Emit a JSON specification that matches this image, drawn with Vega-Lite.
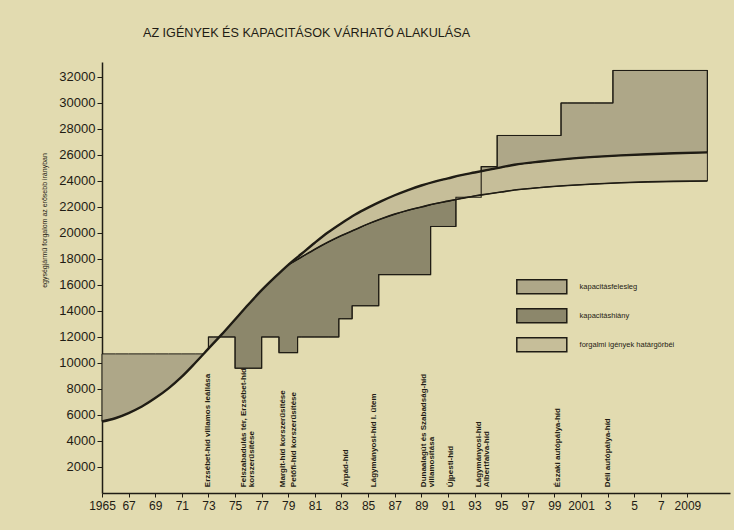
{
  "$schema": "https://vega.github.io/schema/vega-lite/v6.json",
  "width": 628,
  "height": 431,
  "autosize": {"type": "none"},
  "padding": {"left": 102, "top": 62, "right": 4, "bottom": 37},
  "background": "#e2dbb0",
  "title": {
    "text": "AZ IGÉNYEK ÉS KAPACITÁSOK VÁRHATÓ ALAKULÁSA",
    "anchor": "start",
    "frame": "group",
    "dx": 41,
    "offset": 12,
    "baseline": "alphabetic",
    "fontSize": 12.6,
    "fontWeight": "normal",
    "color": "#1f1c14",
    "font": "Liberation Sans"
  },
  "datasets": {
    "regions": [
      {"reg": "S1", "type": "kapacitásfelesleg", "year": 1965, "lo": 5500, "hi": 10700},
      {"reg": "S1", "type": "kapacitásfelesleg", "year": 1966, "lo": 5750, "hi": 10700},
      {"reg": "S1", "type": "kapacitásfelesleg", "year": 1967, "lo": 6150, "hi": 10700},
      {"reg": "S1", "type": "kapacitásfelesleg", "year": 1968, "lo": 6650, "hi": 10700},
      {"reg": "S1", "type": "kapacitásfelesleg", "year": 1969, "lo": 7300, "hi": 10700},
      {"reg": "S1", "type": "kapacitásfelesleg", "year": 1970, "lo": 8050, "hi": 10700},
      {"reg": "S1", "type": "kapacitásfelesleg", "year": 1971, "lo": 8950, "hi": 10700},
      {"reg": "S1", "type": "kapacitásfelesleg", "year": 1972, "lo": 10000, "hi": 10700},
      {"reg": "S1", "type": "kapacitásfelesleg", "year": 1972.64, "lo": 10700, "hi": 10700},
      {"reg": "S2", "type": "kapacitásfelesleg", "year": 1973, "lo": 11100, "hi": 12000},
      {"reg": "S2", "type": "kapacitásfelesleg", "year": 1973.4, "lo": 11540, "hi": 12000},
      {"reg": "S2", "type": "kapacitásfelesleg", "year": 1973.82, "lo": 12000, "hi": 12000},
      {"reg": "X", "type": "kapacitáshiány", "year": 1973.82, "lo": 12000, "hi": 12000},
      {"reg": "X", "type": "kapacitáshiány", "year": 1974, "lo": 12000, "hi": 12200},
      {"reg": "X", "type": "kapacitáshiány", "year": 1975, "lo": 12000, "hi": 13350},
      {"reg": "X", "type": "kapacitáshiány", "year": 1975, "lo": 9600, "hi": 13350},
      {"reg": "X", "type": "kapacitáshiány", "year": 1976, "lo": 9600, "hi": 14500},
      {"reg": "X", "type": "kapacitáshiány", "year": 1977, "lo": 9600, "hi": 15600},
      {"reg": "X", "type": "kapacitáshiány", "year": 1977, "lo": 12000, "hi": 15600},
      {"reg": "X", "type": "kapacitáshiány", "year": 1978, "lo": 12000, "hi": 16600},
      {"reg": "X", "type": "kapacitáshiány", "year": 1978.3, "lo": 12000, "hi": 16885},
      {"reg": "X", "type": "kapacitáshiány", "year": 1978.3, "lo": 10800, "hi": 16885},
      {"reg": "X", "type": "kapacitáshiány", "year": 1979, "lo": 10800, "hi": 17550},
      {"reg": "X", "type": "kapacitáshiány", "year": 1979.7, "lo": 10800, "hi": 17970},
      {"reg": "X", "type": "kapacitáshiány", "year": 1979.7, "lo": 12000, "hi": 17970},
      {"reg": "X", "type": "kapacitáshiány", "year": 1980, "lo": 12000, "hi": 18150},
      {"reg": "X", "type": "kapacitáshiány", "year": 1981, "lo": 12000, "hi": 18750},
      {"reg": "X", "type": "kapacitáshiány", "year": 1982, "lo": 12000, "hi": 19300},
      {"reg": "X", "type": "kapacitáshiány", "year": 1982.8, "lo": 12000, "hi": 19700},
      {"reg": "X", "type": "kapacitáshiány", "year": 1982.8, "lo": 13400, "hi": 19700},
      {"reg": "X", "type": "kapacitáshiány", "year": 1983, "lo": 13400, "hi": 19800},
      {"reg": "X", "type": "kapacitáshiány", "year": 1983.8, "lo": 13400, "hi": 20160},
      {"reg": "X", "type": "kapacitáshiány", "year": 1983.8, "lo": 14400, "hi": 20160},
      {"reg": "X", "type": "kapacitáshiány", "year": 1984, "lo": 14400, "hi": 20250},
      {"reg": "X", "type": "kapacitáshiány", "year": 1985, "lo": 14400, "hi": 20700},
      {"reg": "X", "type": "kapacitáshiány", "year": 1985.8, "lo": 14400, "hi": 21020},
      {"reg": "X", "type": "kapacitáshiány", "year": 1985.8, "lo": 16800, "hi": 21020},
      {"reg": "X", "type": "kapacitáshiány", "year": 1986, "lo": 16800, "hi": 21100},
      {"reg": "X", "type": "kapacitáshiány", "year": 1987, "lo": 16800, "hi": 21450},
      {"reg": "X", "type": "kapacitáshiány", "year": 1988, "lo": 16800, "hi": 21750},
      {"reg": "X", "type": "kapacitáshiány", "year": 1989, "lo": 16800, "hi": 22000},
      {"reg": "X", "type": "kapacitáshiány", "year": 1989.7, "lo": 16800, "hi": 22175},
      {"reg": "X", "type": "kapacitáshiány", "year": 1989.7, "lo": 20500, "hi": 22175},
      {"reg": "X", "type": "kapacitáshiány", "year": 1990, "lo": 20500, "hi": 22250},
      {"reg": "X", "type": "kapacitáshiány", "year": 1991, "lo": 20500, "hi": 22450},
      {"reg": "X", "type": "kapacitáshiány", "year": 1991.6, "lo": 20500, "hi": 22570},
      {"reg": "D", "type": "forgalmi igények határgörbéi", "year": 1979, "lo": 17550, "hi": 17550},
      {"reg": "D", "type": "forgalmi igények határgörbéi", "year": 1980, "lo": 18150, "hi": 18400},
      {"reg": "D", "type": "forgalmi igények határgörbéi", "year": 1981, "lo": 18750, "hi": 19250},
      {"reg": "D", "type": "forgalmi igények határgörbéi", "year": 1982, "lo": 19300, "hi": 20050},
      {"reg": "D", "type": "forgalmi igények határgörbéi", "year": 1983, "lo": 19800, "hi": 20750},
      {"reg": "D", "type": "forgalmi igények határgörbéi", "year": 1984, "lo": 20250, "hi": 21400},
      {"reg": "D", "type": "forgalmi igények határgörbéi", "year": 1985, "lo": 20700, "hi": 21950},
      {"reg": "D", "type": "forgalmi igények határgörbéi", "year": 1986, "lo": 21100, "hi": 22450},
      {"reg": "D", "type": "forgalmi igények határgörbéi", "year": 1987, "lo": 21450, "hi": 22900},
      {"reg": "D", "type": "forgalmi igények határgörbéi", "year": 1988, "lo": 21750, "hi": 23300},
      {"reg": "D", "type": "forgalmi igények határgörbéi", "year": 1989, "lo": 22000, "hi": 23650},
      {"reg": "D", "type": "forgalmi igények határgörbéi", "year": 1990, "lo": 22250, "hi": 23950},
      {"reg": "D", "type": "forgalmi igények határgörbéi", "year": 1991, "lo": 22450, "hi": 24200},
      {"reg": "D", "type": "forgalmi igények határgörbéi", "year": 1992, "lo": 22650, "hi": 24450},
      {"reg": "D", "type": "forgalmi igények határgörbéi", "year": 1993, "lo": 22850, "hi": 24650},
      {"reg": "D", "type": "forgalmi igények határgörbéi", "year": 1994, "lo": 23000, "hi": 24850},
      {"reg": "D", "type": "forgalmi igények határgörbéi", "year": 1995, "lo": 23150, "hi": 25050},
      {"reg": "D", "type": "forgalmi igények határgörbéi", "year": 1996, "lo": 23300, "hi": 25250},
      {"reg": "D", "type": "forgalmi igények határgörbéi", "year": 1998, "lo": 23500, "hi": 25500},
      {"reg": "D", "type": "forgalmi igények határgörbéi", "year": 2000, "lo": 23650, "hi": 25700},
      {"reg": "D", "type": "forgalmi igények határgörbéi", "year": 2002, "lo": 23770, "hi": 25850},
      {"reg": "D", "type": "forgalmi igények határgörbéi", "year": 2004, "lo": 23860, "hi": 25970},
      {"reg": "D", "type": "forgalmi igények határgörbéi", "year": 2006, "lo": 23930, "hi": 26060},
      {"reg": "D", "type": "forgalmi igények határgörbéi", "year": 2008, "lo": 23970, "hi": 26130},
      {"reg": "D", "type": "forgalmi igények határgörbéi", "year": 2010.5, "lo": 24000, "hi": 26200},
      {"reg": "S3", "type": "kapacitásfelesleg", "year": 1993.5, "lo": 24750, "hi": 25100},
      {"reg": "S3", "type": "kapacitásfelesleg", "year": 1994, "lo": 24850, "hi": 25100},
      {"reg": "S3", "type": "kapacitásfelesleg", "year": 1994.7, "lo": 24990, "hi": 25100},
      {"reg": "S3", "type": "kapacitásfelesleg", "year": 1994.7, "lo": 24990, "hi": 27500},
      {"reg": "S3", "type": "kapacitásfelesleg", "year": 1995, "lo": 25050, "hi": 27500},
      {"reg": "S3", "type": "kapacitásfelesleg", "year": 1996, "lo": 25250, "hi": 27500},
      {"reg": "S3", "type": "kapacitásfelesleg", "year": 1998, "lo": 25500, "hi": 27500},
      {"reg": "S3", "type": "kapacitásfelesleg", "year": 1999.5, "lo": 25650, "hi": 27500},
      {"reg": "S3", "type": "kapacitásfelesleg", "year": 1999.5, "lo": 25650, "hi": 30000},
      {"reg": "S3", "type": "kapacitásfelesleg", "year": 2000, "lo": 25700, "hi": 30000},
      {"reg": "S3", "type": "kapacitásfelesleg", "year": 2002, "lo": 25850, "hi": 30000},
      {"reg": "S3", "type": "kapacitásfelesleg", "year": 2003.4, "lo": 25935, "hi": 30000},
      {"reg": "S3", "type": "kapacitásfelesleg", "year": 2003.4, "lo": 25935, "hi": 32500},
      {"reg": "S3", "type": "kapacitásfelesleg", "year": 2004, "lo": 25970, "hi": 32500},
      {"reg": "S3", "type": "kapacitásfelesleg", "year": 2006, "lo": 26060, "hi": 32500},
      {"reg": "S3", "type": "kapacitásfelesleg", "year": 2008, "lo": 26130, "hi": 32500},
      {"reg": "S3", "type": "kapacitásfelesleg", "year": 2010.5, "lo": 26200, "hi": 32500}
    ],
    "curves": [
      {"c": "A", "year": 1965, "v": 5500},
      {"c": "A", "year": 1966, "v": 5750},
      {"c": "A", "year": 1967, "v": 6150},
      {"c": "A", "year": 1968, "v": 6650},
      {"c": "A", "year": 1969, "v": 7300},
      {"c": "A", "year": 1970, "v": 8050},
      {"c": "A", "year": 1971, "v": 8950},
      {"c": "A", "year": 1972, "v": 10000},
      {"c": "A", "year": 1973, "v": 11100},
      {"c": "A", "year": 1974, "v": 12200},
      {"c": "A", "year": 1975, "v": 13350},
      {"c": "A", "year": 1976, "v": 14500},
      {"c": "A", "year": 1977, "v": 15600},
      {"c": "A", "year": 1978, "v": 16600},
      {"c": "A", "year": 1979, "v": 17550},
      {"c": "A", "year": 1980, "v": 18400},
      {"c": "A", "year": 1981, "v": 19250},
      {"c": "A", "year": 1982, "v": 20050},
      {"c": "A", "year": 1983, "v": 20750},
      {"c": "A", "year": 1984, "v": 21400},
      {"c": "A", "year": 1985, "v": 21950},
      {"c": "A", "year": 1986, "v": 22450},
      {"c": "A", "year": 1987, "v": 22900},
      {"c": "A", "year": 1988, "v": 23300},
      {"c": "A", "year": 1989, "v": 23650},
      {"c": "A", "year": 1990, "v": 23950},
      {"c": "A", "year": 1991, "v": 24200},
      {"c": "A", "year": 1992, "v": 24450},
      {"c": "A", "year": 1993, "v": 24650},
      {"c": "A", "year": 1994, "v": 24850},
      {"c": "A", "year": 1995, "v": 25050},
      {"c": "A", "year": 1996, "v": 25250},
      {"c": "A", "year": 1998, "v": 25500},
      {"c": "A", "year": 2000, "v": 25700},
      {"c": "A", "year": 2002, "v": 25850},
      {"c": "A", "year": 2004, "v": 25970},
      {"c": "A", "year": 2006, "v": 26060},
      {"c": "A", "year": 2008, "v": 26130},
      {"c": "A", "year": 2010.5, "v": 26200},
      {"c": "B", "year": 1979, "v": 17550},
      {"c": "B", "year": 1980, "v": 18150},
      {"c": "B", "year": 1981, "v": 18750},
      {"c": "B", "year": 1982, "v": 19300},
      {"c": "B", "year": 1983, "v": 19800},
      {"c": "B", "year": 1984, "v": 20250},
      {"c": "B", "year": 1985, "v": 20700},
      {"c": "B", "year": 1986, "v": 21100},
      {"c": "B", "year": 1987, "v": 21450},
      {"c": "B", "year": 1988, "v": 21750},
      {"c": "B", "year": 1989, "v": 22000},
      {"c": "B", "year": 1990, "v": 22250},
      {"c": "B", "year": 1991, "v": 22450},
      {"c": "B", "year": 1992, "v": 22650},
      {"c": "B", "year": 1993, "v": 22850},
      {"c": "B", "year": 1994, "v": 23000},
      {"c": "B", "year": 1995, "v": 23150},
      {"c": "B", "year": 1996, "v": 23300},
      {"c": "B", "year": 1998, "v": 23500},
      {"c": "B", "year": 2000, "v": 23650},
      {"c": "B", "year": 2002, "v": 23770},
      {"c": "B", "year": 2004, "v": 23860},
      {"c": "B", "year": 2006, "v": 23930},
      {"c": "B", "year": 2008, "v": 23970},
      {"c": "B", "year": 2010.5, "v": 24000}
    ],
    "capacity": [
      {"i": 0, "year": 1973, "v": 11100},
      {"i": 1, "year": 1973, "v": 12000},
      {"i": 2, "year": 1975, "v": 9600},
      {"i": 3, "year": 1977, "v": 12000},
      {"i": 4, "year": 1978.3, "v": 10800},
      {"i": 5, "year": 1979.7, "v": 12000},
      {"i": 6, "year": 1982.8, "v": 13400},
      {"i": 7, "year": 1983.8, "v": 14400},
      {"i": 8, "year": 1985.8, "v": 16800},
      {"i": 9, "year": 1989.7, "v": 20500},
      {"i": 10, "year": 1991.6, "v": 22750},
      {"i": 11, "year": 1993.5, "v": 25100},
      {"i": 12, "year": 1994.7, "v": 27500},
      {"i": 13, "year": 1999.5, "v": 30000},
      {"i": 14, "year": 2003.4, "v": 32500},
      {"i": 15, "year": 2010.5, "v": 32500},
      {"i": 16, "year": 2010.5, "v": 26200}
    ],
    "notes": [
      {"label": "Erzsébet-híd villamos leállása", "year": 1972.95},
      {"label": "Felszabadulás tér, Erzsébet-híd\nkorszerűsítése", "year": 1975.7},
      {"label": "Margit-híd korszerűsítése", "year": 1978.6},
      {"label": "Petőfi-híd korszerűsítése", "year": 1979.4},
      {"label": "Árpád-híd", "year": 1983.35},
      {"label": "Lágymányosi-híd I. ütem", "year": 1985.45},
      {"label": "Dunaalagút és Szabadság-híd\nvillamosítása", "year": 1989.2},
      {"label": "Újpesti-híd", "year": 1991.25},
      {"label": "Lágymányosi-híd\nAlbertfalva-híd", "year": 1993.3},
      {"label": "Északi autópálya-híd", "year": 1999.3},
      {"label": "Déli autópálya-híd", "year": 2003.0}
    ]
  },
  "layer": [
    {
      "data": {"name": "regions"},
      "mark": {"type": "area", "stroke": "#1f1c14", "strokeWidth": 1, "opacity": 1},
      "encoding": {
        "x": {
          "field": "year", "type": "quantitative",
          "scale": {"domain": [1965, 2012.2], "nice": false, "zero": false},
          "axis": {
            "title": null,
            "values": [1965, 1967, 1969, 1971, 1973, 1975, 1977, 1979, 1981, 1983, 1985, 1987, 1989, 1991, 1993, 1995, 1997, 1999, 2001, 2003, 2005, 2007, 2009],
            "tickCount": 100,
            "labelExpr": "datum.value == 1965 || datum.value == 2001 || datum.value == 2009 ? toString(datum.value) : (datum.value < 2000 ? substring(toString(datum.value), 2, 4) : toString(datum.value - 2000))",
            "labelFontSize": 12,
            "labelPadding": 3,
            "tickSize": 4,
            "labelFlush": false,
            "labelOverlap": false
          }
        },
        "y": {
          "field": "hi", "type": "quantitative",
          "scale": {"domain": [0, 33150], "nice": false, "zero": false},
          "axis": {
            "title": "egységjármű forgalom az erősebb irányban",
            "values": [2000, 4000, 6000, 8000, 10000, 12000, 14000, 16000, 18000, 20000, 22000, 24000, 26000, 28000, 30000, 32000],
            "tickCount": 100,
            "format": "d",
            "labelFontSize": 13,
            "labelPadding": 2,
            "labelOverlap": false,
            "tickSize": 5,
            "titleFontSize": 7,
            "titleFontWeight": "normal",
            "titleX": -58,
            "titleY": 158,
            "titleAngle": 270,
            "titleAlign": "center",
            "titleBaseline": "middle"
          }
        },
        "y2": {"field": "lo"},
        "detail": {"field": "reg"},
        "color": {
          "field": "type", "type": "nominal",
          "scale": {
            "domain": ["kapacitásfelesleg", "kapacitáshiány", "forgalmi igények határgörbéi"],
            "range": ["#aea788", "#8c876b", "#c6be99"]
          },
          "legend": {
            "title": null,
            "orient": "none",
            "legendX": 421.3,
            "legendY": 206.3,
            "padding": 0,
            "symbolType": "M-1.414,-0.396L1.414,-0.396L1.414,0.396L-1.414,0.396Z",
            "symbolSize": 1250,
            "symbolStrokeColor": "#1f1c14",
            "symbolStrokeWidth": 1.5,
            "symbolOpacity": 1,
            "labelFontSize": 7.5,
            "labelOffset": 19.3,
            "rowPadding": 0,
            "labelColor": "#1f1c14"
          }
        }
      }
    },
    {
      "data": {"name": "curves"},
      "transform": [{"filter": "datum.c == 'A'"}],
      "mark": {"type": "line", "color": "#1f1c14", "strokeWidth": 2.4, "interpolate": "monotone"},
      "encoding": {
        "x": {"field": "year", "type": "quantitative"},
        "y": {"field": "v", "type": "quantitative"}
      }
    },
    {
      "data": {"name": "curves"},
      "transform": [{"filter": "datum.c == 'B'"}],
      "mark": {"type": "line", "color": "#1f1c14", "strokeWidth": 1.6, "interpolate": "monotone"},
      "encoding": {
        "x": {"field": "year", "type": "quantitative"},
        "y": {"field": "v", "type": "quantitative"}
      }
    },
    {
      "data": {"name": "capacity"},
      "mark": {"type": "line", "color": "#1f1c14", "strokeWidth": 1.1, "interpolate": "step-after"},
      "encoding": {
        "x": {"field": "year", "type": "quantitative"},
        "y": {"field": "v", "type": "quantitative"},
        "order": {"field": "i", "type": "quantitative"}
      }
    },
    {
      "data": {"name": "notes"},
      "mark": {"type": "text", "angle": 270, "align": "left", "baseline": "middle", "fontSize": 8, "fontWeight": "bold", "lineBreak": "\n", "lineHeight": 8, "color": "#1f1c14"},
      "encoding": {
        "x": {"field": "year", "type": "quantitative"},
        "y": {"datum": 450, "type": "quantitative"},
        "text": {"field": "label"}
      }
    }
  ],
  "config": {
    "view": {"stroke": null},
    "font": "Liberation Sans",
    "axis": {
      "grid": false,
      "labelOverlap": false,
      "domainColor": "#1f1c14",
      "domainWidth": 1.5,
      "tickColor": "#1f1c14",
      "tickWidth": 1,
      "labelColor": "#1f1c14",
      "titleColor": "#1f1c14",
      "labelFont": "Liberation Sans",
      "titleFont": "Liberation Sans"
    }
  }
}
